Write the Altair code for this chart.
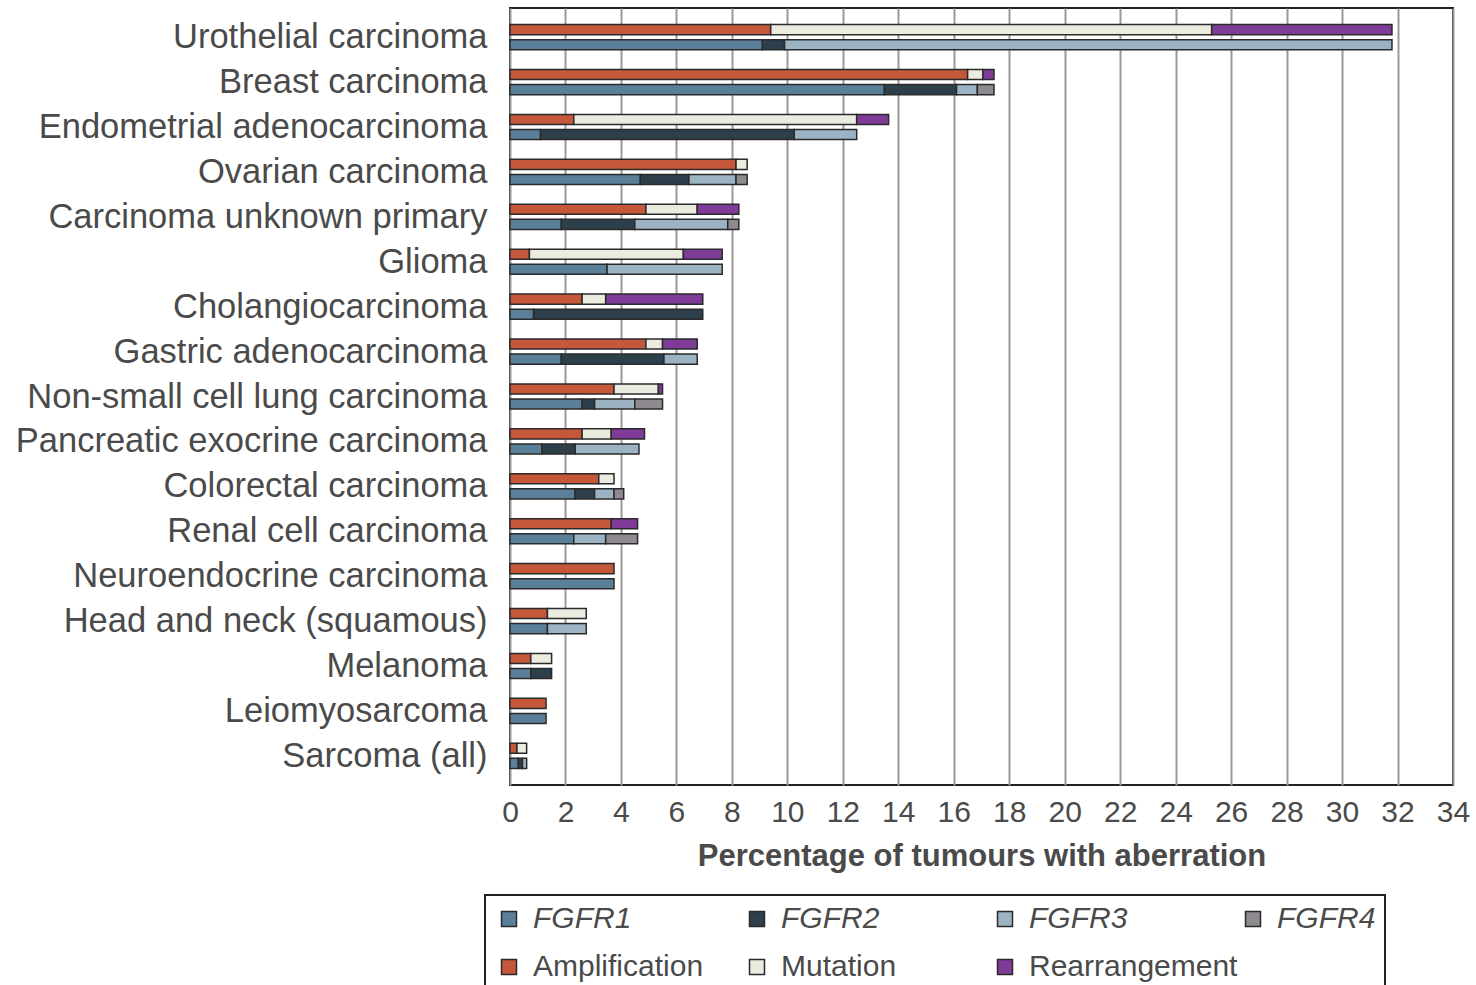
import altair as alt
import pandas as pd

# Tumour types, top to bottom
cancers = [
    "Urothelial carcinoma",
    "Breast carcinoma",
    "Endometrial adenocarcinoma",
    "Ovarian carcinoma",
    "Carcinoma unknown primary",
    "Glioma",
    "Cholangiocarcinoma",
    "Gastric adenocarcinoma",
    "Non-small cell lung carcinoma",
    "Pancreatic exocrine carcinoma",
    "Colorectal carcinoma",
    "Renal cell carcinoma",
    "Neuroendocrine carcinoma",
    "Head and neck (squamous)",
    "Melanoma",
    "Leiomyosarcoma",
    "Sarcoma (all)",
]

# Percentage of tumours by aberration type (upper bar of each pair)
amplification = [9.4, 16.5, 2.3, 8.15, 4.9, 0.7, 2.6, 4.9, 3.75, 2.6, 3.2, 3.65, 3.75, 1.35, 0.75, 1.3, 0.25]
mutation = [15.9, 0.55, 10.2, 0.4, 1.85, 5.55, 0.85, 0.6, 1.6, 1.05, 0.55, 0.0, 0.0, 1.4, 0.75, 0.0, 0.35]
rearrangement = [6.5, 0.4, 1.15, 0.0, 1.5, 1.4, 3.5, 1.25, 0.15, 1.2, 0.0, 0.95, 0.0, 0.0, 0.0, 0.0, 0.0]

# Percentage of tumours by gene (lower bar of each pair)
fgfr1 = [9.1, 13.5, 1.1, 4.7, 1.85, 3.5, 0.85, 1.85, 2.6, 1.15, 2.35, 2.3, 3.75, 1.35, 0.75, 1.3, 0.3]
fgfr2 = [0.8, 2.6, 9.15, 1.75, 2.65, 0.0, 6.1, 3.7, 0.45, 1.2, 0.7, 0.0, 0.0, 0.0, 0.75, 0.0, 0.15]
fgfr3 = [21.9, 0.75, 2.25, 1.7, 3.35, 4.15, 0.0, 1.2, 1.45, 2.3, 0.7, 1.15, 0.0, 1.4, 0.0, 0.0, 0.15]
fgfr4 = [0.0, 0.6, 0.0, 0.4, 0.4, 0.0, 0.0, 0.0, 1.0, 0.0, 0.35, 1.15, 0.0, 0.0, 0.0, 0.0, 0.0]

segments = ["FGFR1", "FGFR2", "FGFR3", "FGFR4", "Amplification", "Mutation", "Rearrangement"]
colors = ["#5a7f98", "#2d3f4b", "#9cb3c4", "#8e8a8f", "#c5573b", "#ecebe0", "#7f3b98"]

series = [
    ("Aberration", "Amplification", amplification),
    ("Aberration", "Mutation", mutation),
    ("Aberration", "Rearrangement", rearrangement),
    ("Gene", "FGFR1", fgfr1),
    ("Gene", "FGFR2", fgfr2),
    ("Gene", "FGFR3", fgfr3),
    ("Gene", "FGFR4", fgfr4),
]

rows = []
for row, seg, values in series:
    for cancer, v in zip(cancers, values):
        if v > 0:
            rows.append({"cancer": cancer, "row": row, "segment": seg,
                         "k": segments.index(seg), "value": v})
df = pd.DataFrame(rows)

label_color = "#4a4a4a"

chart = (
    alt.Chart(df)
    .mark_bar(stroke="#2a2a2a", strokeWidth=1.5)
    .encode(
        x=alt.X(
            "sum(value):Q",
            stack="zero",
            scale=alt.Scale(domain=[0, 34], nice=False),
            axis=alt.Axis(
                values=list(range(0, 35, 2)),
                title="Percentage of tumours with aberration",
                titleFontSize=31,
                titleFontWeight="bold",
                titleColor=label_color,
                titlePadding=14,
                labelFontSize=30,
                labelColor=label_color,
                labelPadding=12,
                labelFlush=False,
                ticks=False,
                grid=True,
                gridColor="#9a9a9a",
                gridWidth=2,
                domain=False,
            ),
        ),
        y=alt.Y(
            "cancer:N",
            sort=cancers,
            scale=alt.Scale(paddingInner=0.44, paddingOuter=0.37),
            axis=alt.Axis(
                title=None,
                labelFontSize=34.5,
                labelColor=label_color,
                labelPadding=23,
                labelOffset=1,
                labelLimit=600,
                ticks=False,
                domain=False,
            ),
        ),
        yOffset=alt.YOffset(
            "row:N",
            sort=["Aberration", "Gene"],
            scale=alt.Scale(paddingInner=0.33, paddingOuter=0),
        ),
        color=alt.Color(
            "segment:N",
            scale=alt.Scale(domain=segments, range=colors),
            legend=alt.Legend(
                title=None,
                orient="none",
                legendX=-25,
                legendY=887,
                direction="horizontal",
                columns=4,
                gridAlign="all",
                columnPadding=0,
                rowPadding=18,
                padding=9,
                strokeColor="#222222",
                symbolType="square",
                symbolSize=225,
                symbolStrokeColor="#2a2a2a",
                symbolStrokeWidth=1.5,
                symbolOpacity=1,
                labelFontSize=30,
                labelColor=label_color,
                labelOffset=9,
                labelLimit=400,
                labelFontStyle={"expr": "indexof(datum.label, 'FGFR') == 0 ? 'italic' : 'normal'"},
            ),
        ),
        order=alt.Order("k:Q", sort="ascending"),
    )
    .properties(width=943, height=777, padding={"left": 15, "top": 8, "right": 5, "bottom": 0})
    .configure(font="Liberation Sans")
    .configure_view(stroke="#222222", strokeWidth=2)
    .configure_legend(strokeWidth=2)
)

chart.save("out.html", embed_options={"renderer": "svg", "actions": False})
